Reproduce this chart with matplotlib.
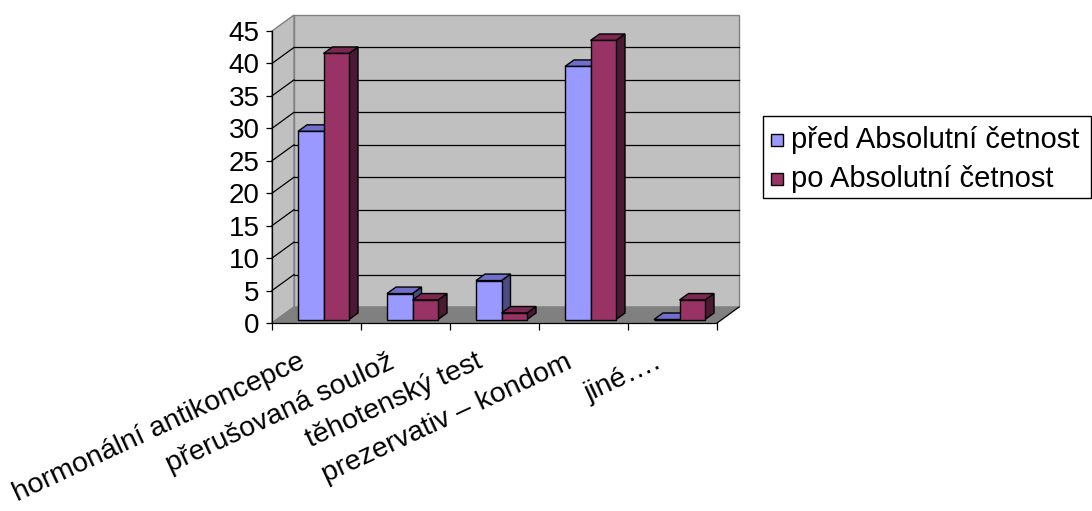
import matplotlib
matplotlib.use("Agg")
import matplotlib.pyplot as plt
from matplotlib.patches import Polygon, Rectangle

plt.rcParams["font.family"] = ["Liberation Sans", "DejaVu Sans"]

categories = ["hormonální antikoncepce", "přerušovaná soulož", "těhotenský test",
              "prezervativ – kondom", "jiné…."]
pred = [29, 4, 6, 39, 0]
po = [41, 3, 1, 43, 3]
series_names = ["před Absolutní četnost", "po Absolutní četnost"]
y_ticks = [0, 5, 10, 15, 20, 25, 30, 35, 40, 45]

W, H = 1092, 511
fig = plt.figure(figsize=(W / 100, H / 100), dpi=100)
fig.patch.set_facecolor("white")


def fig_xy(x, y):
    """Pixel position (from top-left) to figure fraction."""
    return x / W, 1 - y / H


# front plane of the 3-D plot box
left, right, top, base = 272, 717, 31, 323
ax = fig.add_axes([left / W, (H - base) / H, (right - left) / W, (base - top) / H])
n = len(categories)
ymax = y_ticks[-1]
ax.set_xlim(0, n)
ax.set_ylim(0, ymax)
ax.set_facecolor("none")

ppx = ax.bbox.width / n      # pixels per category
ppy = ax.bbox.height / ymax  # pixels per unit


def off(px, py):
    return px / ppx, py / ppy


# depth of the walls, of the bar front and of a bar
WX, WY = off(22, 16)
FX, FY = off(7, 3.5)
BX, BY = off(9, 6.5)

wall_c = "#C0C0C0"
edge_c = "#808080"

# back wall
ax.add_patch(Rectangle((WX, WY), n, ymax, facecolor=wall_c, edgecolor=edge_c,
                       lw=1, zorder=0.1, clip_on=False))
# side wall
ax.add_patch(Polygon([(0, 0), (WX, WY), (WX, ymax + WY), (0, ymax)], closed=True,
                     facecolor=wall_c, edgecolor=edge_c, lw=1, zorder=0.2, clip_on=False))
# floor
ax.add_patch(Polygon([(0, 0), (n, 0), (n + WX, WY), (WX, WY)], closed=True,
                     facecolor="#808080", edgecolor="#808080", lw=1, zorder=0.3,
                     clip_on=False))
ax.plot([n, n + WX], [0, WY], color="black", lw=0.8, zorder=0.35, clip_on=False)

# gridlines on back wall and side wall
for v in y_ticks[1:-1]:
    ax.plot([WX, n + WX], [v + WY, v + WY], color="black", lw=0.9, zorder=0.4,
            clip_on=False)
    ax.plot([0, WX], [v, v + WY], color="black", lw=0.9, zorder=0.4, clip_on=False)

# bars
bw = 25.5 / ppx
styles = [
    {"front": "#9999FF", "top": "#7070CC", "side": "#4C4C85"},
    {"front": "#993366", "top": "#7A2852", "side": "#4C1933"},
]
z = 1.0
for i in range(n):
    for s, vals in enumerate((pred, po)):
        v = vals[i]
        x0 = i + 0.5 - bw + s * bw + FX
        y0 = FY
        st = styles[s]
        # side face
        ax.add_patch(Polygon([(x0 + bw, y0), (x0 + bw + BX, y0 + BY),
                              (x0 + bw + BX, y0 + v + BY), (x0 + bw, y0 + v)],
                             closed=True, facecolor=st["side"], edgecolor="black",
                             lw=1, zorder=z, clip_on=False))
        # top face
        ax.add_patch(Polygon([(x0, y0 + v), (x0 + bw, y0 + v),
                              (x0 + bw + BX, y0 + v + BY), (x0 + BX, y0 + v + BY)],
                             closed=True, facecolor=st["top"], edgecolor="black",
                             lw=1, zorder=z + 0.01, clip_on=False))
        # front face
        ax.bar(x0, v, width=bw, bottom=y0, align="edge", color=st["front"],
               edgecolor="black", lw=1, zorder=z + 0.02, clip_on=False)
        z += 0.1

# axes lines and ticks
for sp in ("top", "right"):
    ax.spines[sp].set_visible(False)
for sp in ("left", "bottom"):
    ax.spines[sp].set_color("black")
    ax.spines[sp].set_linewidth(0.9)
    ax.spines[sp].set_zorder(5)

ax.set_yticks(y_ticks)
ax.set_yticklabels([str(t) for t in y_ticks])
ax.tick_params(axis="y", direction="out", length=4, width=0.9, pad=5,
               labelsize=20, colors="black")
ax.set_xticks(range(n + 1))
ax.set_xticklabels([])
ax.tick_params(axis="x", direction="out", length=5, width=0.9, colors="black")

# rotated category labels
lx = 10 / ppx
ly = (367 - base) / ppy
for i, name in enumerate(categories):
    ax.text(i + 0.5 - lx, -ly, name, rotation=25, rotation_mode="anchor",
            ha="right", va="baseline", fontsize=20.5, color="black", clip_on=False)

# legend
lx0, ly0 = fig_xy(762.5, 198)
lx1, ly1 = fig_xy(1091, 116)
fig.patches.append(Rectangle((lx0, ly0), lx1 - lx0, ly1 - ly0, transform=fig.transFigure,
                             facecolor="white", edgecolor="black", lw=1))
for k, name in enumerate(series_names):
    base_y = 148 + k * 39
    sx, sy = fig_xy(771, base_y - 2)
    sw, sh = 12 / W, 12 / H
    fig.patches.append(Rectangle((sx, sy), sw, sh, transform=fig.transFigure,
                                 facecolor=styles[k]["front"], edgecolor="black", lw=1))
    tx, ty = fig_xy(791, base_y)
    fig.text(tx, ty, name, fontsize=21, ha="left", va="baseline", color="black")

fig.savefig("out.png", dpi=100, facecolor="white")
